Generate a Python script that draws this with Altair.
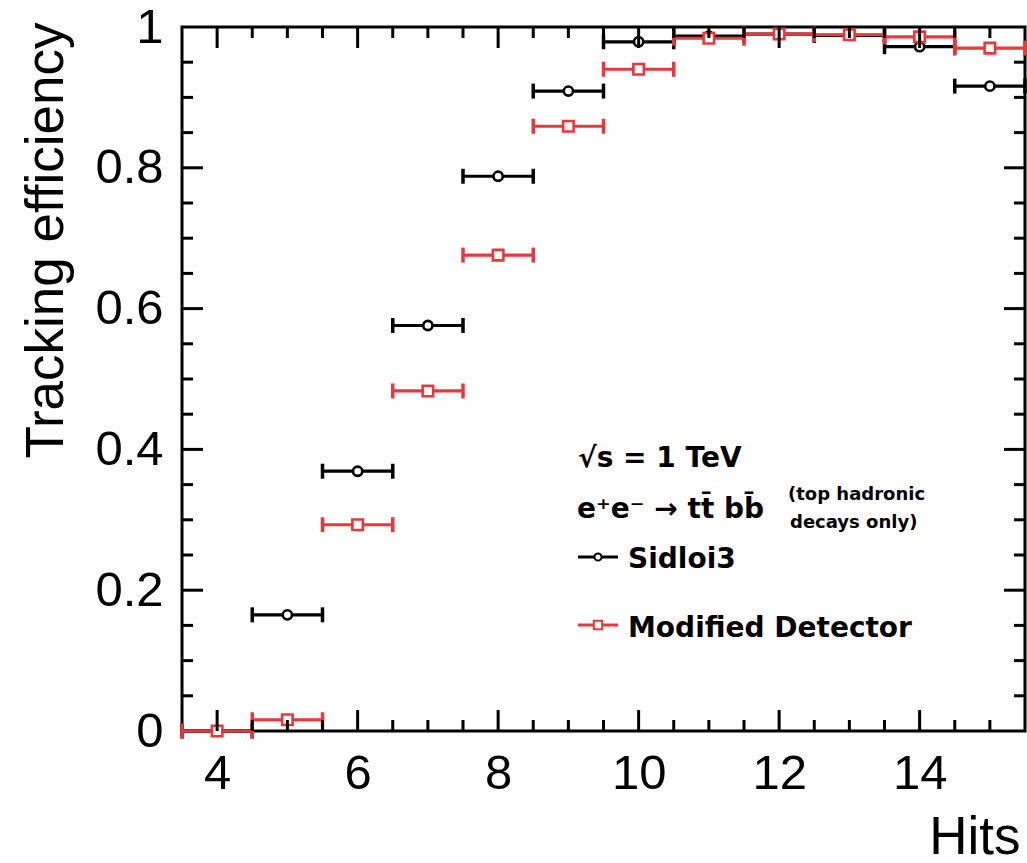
import altair as alt
import pandas as pd

# ---- data ----
hits = [4, 5, 6, 7, 8, 9, 10, 11, 12, 13, 14, 15]
sidloi3 = [0.0, 0.165, 0.369, 0.576, 0.788, 0.909, 0.979, 0.987, 0.990, 0.988, 0.972, 0.916]
modified = [0.0, 0.016, 0.293, 0.483, 0.676, 0.859, 0.940, 0.984, 0.990, 0.989, 0.986, 0.970]

x_label_values = [4, 6, 8, 10, 12, 14]
y_label_values = [0, 0.2, 0.4, 0.6, 0.8, 1.0]
x_major_ticks = [4, 6, 8, 10, 12, 14]
x_minor_ticks = [4.5, 5, 5.5, 6.5, 7, 7.5, 8.5, 9, 9.5, 10.5, 11, 11.5,
                 12.5, 13, 13.5, 14.5, 15]
y_major_ticks = [0.2, 0.4, 0.6, 0.8]
y_minor_ticks = [0.05, 0.1, 0.15, 0.25, 0.3, 0.35, 0.45, 0.5, 0.55, 0.65,
                 0.7, 0.75, 0.85, 0.9, 0.95]

W, H = 843, 704
RED = "#e8383d"
BLACK = "#000000"
FONT = "Liberation Sans"
LFONT = "DejaVu Sans"

df = pd.DataFrame({"hits": hits, "sid": sidloi3, "mod": modified})

xs = alt.Scale(domain=[3.5, 15.5], nice=False, zero=False)
ys = alt.Scale(domain=[0, 1], nice=False, zero=False)

xaxis = alt.Axis(values=x_label_values, title="Hits", domain=False, ticks=False,
                 grid=False, labelFontSize=49, labelFont=FONT, labelPadding=18,
                 labelColor="black", labelFlush=False,
                 titleFontSize=53, titleFont=FONT, titleFontWeight="normal",
                 titleColor="black", titleX=838, titleY=122, titleAlign="right",
                 titleBaseline="alphabetic")
yaxis = alt.Axis(values=y_label_values, format=".1~f", title="Tracking efficiency",
                 domain=False, ticks=False, grid=False, labelFontSize=49,
                 labelFont=FONT, labelPadding=19, labelColor="black", labelFlush=False,
                 titleFontSize=53, titleFont=FONT, titleFontWeight="normal",
                 titleColor="black", titleAngle=270, titleX=-120, titleY=-5,
                 titleAlign="right", titleBaseline="alphabetic")


def X(f):
    return alt.X(f, scale=xs, axis=xaxis)


def Y(f):
    return alt.Y(f, scale=ys, axis=yaxis)


def series(field, color, shape, size):
    base = alt.Chart(df).transform_calculate(lo="datum.hits - 0.5", hi="datum.hits + 0.5")
    bar = base.mark_rule(color=color, strokeWidth=3.2, opacity=1).encode(
        x=X("lo:Q"), x2="hi:Q", y=Y(f"{field}:Q"))
    cap_lo = base.mark_tick(orient="vertical", size=15, thickness=3.5, color=color,
                            opacity=1).encode(x=X("lo:Q"), y=Y(f"{field}:Q"))
    cap_hi = base.mark_tick(orient="vertical", size=15, thickness=3.5, color=color,
                            opacity=1).encode(x=X("hi:Q"), y=Y(f"{field}:Q"))
    pts = base.mark_point(shape=shape, size=size, filled=True, fill="white",
                          stroke=color, strokeWidth=2.6, opacity=1).encode(
        x=X("hits:Q"), y=Y(f"{field}:Q"))
    return [bar, cap_lo, cap_hi, pts]


layers = series("sid", BLACK, "circle", 85) + series("mod", RED, "square", 110)

# ---- inner ticks (ROOT style) ----
def xticks(values, length):
    d = pd.DataFrame({"v": values})
    bottom = alt.Chart(d).mark_rule(color="black", strokeWidth=3).encode(
        x=X("v:Q"), y=alt.value(H), y2=alt.value(H - length))
    top = alt.Chart(d).mark_rule(color="black", strokeWidth=3).encode(
        x=X("v:Q"), y=alt.value(0), y2=alt.value(length))
    return [bottom, top]


def yticks(values, length):
    d = pd.DataFrame({"v": values})
    left = alt.Chart(d).mark_rule(color="black", strokeWidth=3).encode(
        y=Y("v:Q"), x=alt.value(0), x2=alt.value(length))
    right = alt.Chart(d).mark_rule(color="black", strokeWidth=3).encode(
        y=Y("v:Q"), x=alt.value(W), x2=alt.value(W - length))
    return [left, right]


tick_layers = (xticks(x_major_ticks, 21) + xticks(x_minor_ticks, 11)
               + yticks(y_major_ticks, 21) + yticks(y_minor_ticks, 11))

# ---- legend / annotation ----
one = pd.DataFrame({"a": [0]})


def label(txt, x, y, size, weight="bold"):
    return alt.Chart(one).mark_text(text=txt, font=LFONT, fontSize=size, fontWeight=weight,
                                    align="left", baseline="alphabetic", color="black").encode(
        x=alt.value(x), y=alt.value(y))


legend = [
    label("\u221As = 1 TeV", 396, 440, 28),
    label("e\u207Ae\u207B \u2192 tt\u0304 bb\u0304", 395, 491, 28),
    label("(top hadronic", 606, 473, 18),
    label("decays only)", 608, 501, 18),
    label("Sidloi3", 446, 541, 28),
    label("Modified Detector", 446, 610, 28),
    alt.Chart(one).mark_rule(color=BLACK, strokeWidth=3).encode(
        x=alt.value(396), x2=alt.value(436), y=alt.value(530)),
    alt.Chart(one).mark_point(shape="circle", size=50, filled=True, fill="white",
                              stroke=BLACK, strokeWidth=2, opacity=1).encode(
        x=alt.value(416), y=alt.value(530)),
    alt.Chart(one).mark_rule(color=RED, strokeWidth=3).encode(
        x=alt.value(396), x2=alt.value(436), y=alt.value(598)),
    alt.Chart(one).mark_point(shape="square", size=70, filled=True, fill="white",
                              stroke=RED, strokeWidth=2, opacity=1).encode(
        x=alt.value(416), y=alt.value(598)),
]

chart = alt.layer(*layers, *tick_layers, *legend).properties(
    width=W, height=H,
    autosize=alt.AutoSizeParams(type="none"),
    padding={"left": 182, "top": 27, "right": 2, "bottom": 132},
    background="white",
).configure_view(stroke="black", strokeWidth=3)

chart.save("out.html", embed_options={"renderer": "svg", "actions": False})
